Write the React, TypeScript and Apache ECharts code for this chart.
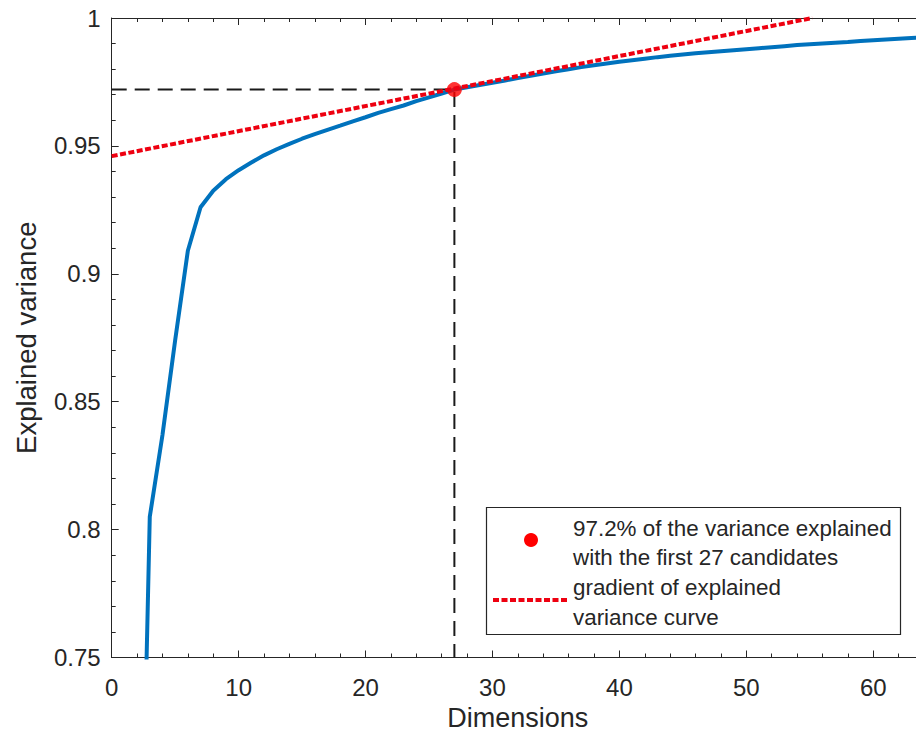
import React, { useEffect, useRef } from "react";
import * as echarts from "echarts";

const dims = [1,2,3,4,5,6,7,8,9,10,11,12,13,14,15,16,17,18,19,20,21,22,23,24,25,26,27,28,29,30,31,32,33,34,35,36,37,38,39,40,41,42,43,44,45,46,47,48,49,50,51,52,53,54,55,56,57,58,59,60,61,62,63,64];
const explained = [0.38,0.585,0.805,0.837,0.874,0.909,0.926,0.9325,0.937,0.9405,0.9435,0.9463,0.9487,0.9508,0.9528,0.9546,0.9563,0.9579,0.9596,0.9612,0.9629,0.9644,0.9658,0.9675,0.969,0.9705,0.972,0.9729,0.9738,0.9747,0.9756,0.9765,0.9774,0.9783,0.9792,0.98,0.9808,0.9815,0.9822,0.9829,0.9835,0.9841,0.9847,0.9852,0.9857,0.9862,0.9866,0.987,0.9874,0.9878,0.9882,0.9886,0.989,0.9894,0.9897,0.99,0.9903,0.9906,0.991,0.9913,0.9916,0.9919,0.9922,0.9925];
const chosenDim = 27;
const chosenValue = 0.972;
const gradientX = [0, 55.2];
const gradientY = [0.946, 1.0];
const legendTexts = ["97.2% of the variance explained", "with the first 27 candidates", "gradient of explained", "variance curve"];

const FONT = "'Liberation Sans', Arial, Helvetica, sans-serif";
const AX = "#262626";

export default function App() {
  const ref = useRef<HTMLDivElement>(null);
  useEffect(() => {
    if (!ref.current) return;
    const chart = echarts.init(ref.current, undefined, { renderer: "svg" });
    const axisCommon = {
      type: "value" as const,
      min: 0,
      max: 64,
      interval: 10,
      axisLine: { show: true, lineStyle: { color: AX, width: 1 } },
      axisTick: { show: true, inside: true, length: 7, lineStyle: { color: AX } },
      minorTick: { show: true, splitNumber: 5, length: 4, lineStyle: { color: AX } },
      splitLine: { show: false },
    };
    chart.setOption({
      animation: false,
      backgroundColor: "#fff",
      textStyle: { fontFamily: FONT },
      grid: {
        left: 111.7,
        top: 18,
        width: 812.3,
        height: 639.5,
        containLabel: false,
        outerBoundsMode: "none",
      },
      xAxis: [
        {
          ...axisCommon,
          position: "bottom",
          name: "Dimensions",
          nameLocation: "middle",
          nameGap: 46,
          nameTextStyle: { fontSize: 27, color: AX, fontFamily: FONT },
          axisLabel: {
            fontSize: 24,
            color: AX,
            fontFamily: FONT,
            margin: 18,
            formatter: (v: number) => (v % 10 === 0 ? String(v) : ""),
          },
        },
        {
          ...axisCommon,
          position: "top",
          axisLabel: { show: false },
        },
      ],
      yAxis: {
        type: "value",
        min: 0.75,
        max: 1,
        interval: 0.05,
        name: "Explained variance",
        nameLocation: "middle",
        nameGap: 71,
        nameTextStyle: { fontSize: 27.5, color: AX, fontFamily: FONT },
        axisLine: { show: true, lineStyle: { color: AX, width: 1 } },
        axisTick: { show: true, inside: true, length: 7, lineStyle: { color: AX } },
        minorTick: { show: true, splitNumber: 5, length: 4, lineStyle: { color: AX } },
        splitLine: { show: false },
        axisLabel: {
          fontSize: 24,
          color: AX,
          fontFamily: FONT,
          margin: 11,
          formatter: (v: number) => String(parseFloat(v.toFixed(2))),
        },
      },
      series: [
        {
          type: "line",
          name: "explained",
          data: dims.map((d, i) => [d, explained[i]]),
          symbol: "none",
          clip: true,
          lineStyle: { color: "#0072BD", width: 4 },
          z: 2,
        },
        {
          type: "line",
          name: "guide",
          data: [[0, chosenValue], [chosenDim, chosenValue], [chosenDim, 0.75]],
          symbol: "none",
          lineStyle: { color: "#1a1a1a", width: 2, type: [15, 8] },
          z: 3,
        },
        {
          type: "scatter",
          name: "chosen",
          data: [[chosenDim, chosenValue]],
          symbol: "circle",
          symbolSize: 15,
          itemStyle: { color: "#ff0000" },
          z: 4,
        },
        {
          type: "line",
          name: "gradient",
          data: gradientX.map((x, i) => [x, gradientY[i]]),
          symbol: "none",
          clip: true,
          lineStyle: { color: "#ee0010", width: 4, type: [6, 2.5] },
          z: 5,
        },
      ],
      graphic: [
        {
          type: "rect",
          shape: { x: 486.5, y: 507.5, width: 414, height: 127 },
          style: { fill: "#fff", stroke: AX, lineWidth: 1.2 },
          z: 100,
        },
        {
          type: "circle",
          shape: { cx: 531, cy: 540, r: 7 },
          style: { fill: "#ff0000" },
          z: 101,
        },
        {
          type: "line",
          shape: { x1: 493, y1: 600, x2: 568, y2: 600 },
          style: { stroke: "#ee0010", lineWidth: 4, lineDash: [6, 2.5] },
          z: 101,
        },
        ...legendTexts.map((t, i) => ({
          type: "text",
          x: 573,
          y: [528, 557, 587, 617][i],
          style: {
            text: t,
            fontSize: 22.4,
            fontFamily: FONT,
            fill: AX,
            verticalAlign: "middle",
          },
          z: 101,
        })),
      ],
    });
    return () => chart.dispose();
  }, []);
  return (
    <div
      ref={ref}
      style={{ position: "fixed", left: 0, top: 0, width: 916, height: 733, overflow: "hidden", background: "#fff" }}
    />
  );
}
